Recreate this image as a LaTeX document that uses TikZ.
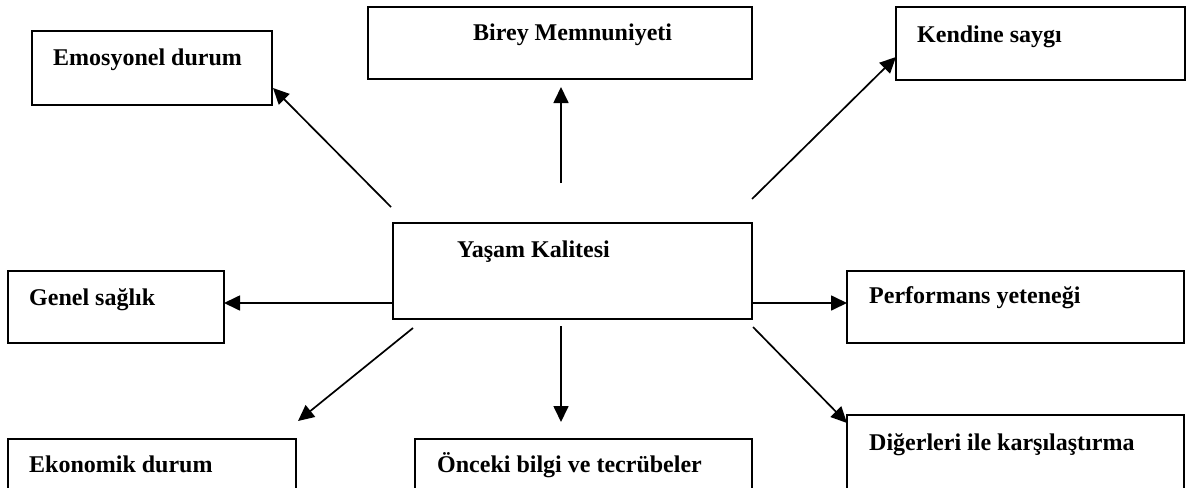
\documentclass[tikz,border=0pt]{standalone}
\usepackage{fontspec}
\setmainfont{Liberation Serif}
\usetikzlibrary{arrows.meta,calc}
\begin{document}
\begin{tikzpicture}[x=1pt,y=-1pt,
  box/.style={draw,line width=2.2pt,rectangle,anchor=north west,inner sep=0pt,outer sep=0pt},
  lbl/.style={anchor=base west,inner sep=0pt,font=\bfseries\fontsize{24}{28}\selectfont},
  arr/.style={line width=1.7pt,-{Triangle[length=16pt,width=15pt]}}]
\useasboundingbox (0,0) rectangle (1190,487);
\clip (0,0) rectangle (1190,487);
% boxes
\node[box,minimum width=240pt,minimum height=74pt] (emo) at (32,31) {};
\node[box,minimum width=384pt,minimum height=72pt] (birey) at (368,7) {};
\node[box,minimum width=289pt,minimum height=73pt] (kendine) at (896,7) {};
\node[box,minimum width=359pt,minimum height=96pt] (yasam) at (393,223) {};
\node[box,minimum width=216pt,minimum height=72pt] (genel) at (8,271) {};
\node[box,minimum width=337pt,minimum height=72pt] (perf) at (847,271) {};
\node[box,minimum width=288pt,minimum height=80pt] (ekon) at (8,439) {};
\node[box,minimum width=337pt,minimum height=80pt] (onceki) at (415,439) {};
\node[box,minimum width=337pt,minimum height=100pt] (diger) at (847,415) {};
% labels
\node[lbl] (emo-t) at ($(emo.north west)+(21,34)$) {Emosyonel durum};
\node[lbl] (birey-t) at ($(birey.north west)+(105,34)$) {Birey Memnuniyeti};
\node[lbl] (kendine-t) at ($(kendine.north west)+(21,35)$) {Kendine saygı};
\node[lbl] (yasam-t) at ($(yasam.north west)+(64,34)$) {Yaşam Kalitesi};
\node[lbl] (genel-t) at ($(genel.north west)+(21,34)$) {Genel sağlık};
\node[lbl] (perf-t) at ($(perf.north west)+(22,32)$) {Performans yeteneği};
\node[lbl] (ekon-t) at ($(ekon.north west)+(21,33)$) {Ekonomik durum};
\node[lbl] (onceki-t) at ($(onceki.north west)+(22,33)$) {Önceki bilgi ve tecrübeler};
\node[lbl] (diger-t) at ($(diger.north west)+(22,35)$) {Diğerleri ile karşılaştırma};
% free ends
\coordinate (t-emo) at ($(yasam.north west)+(-2,-16)$);
\coordinate (h-emo) at ($(emo.south east)+(1,-17)$);
\coordinate (t-birey) at ($(yasam.north west)+(168,-40)$);
\coordinate (h-birey) at ($(birey.south west)+(193,8)$);
\coordinate (t-kend) at ($(yasam.north east)+(0,-24)$);
\coordinate (h-kend) at ($(kendine.north west)+(0,50)$);
\coordinate (t-genel) at ($(yasam.south west)+(0,-16)$);
\coordinate (h-genel) at ($(genel.north east)+(0,32)$);
\coordinate (t-perf) at ($(yasam.south east)+(0,-16)$);
\coordinate (h-perf) at ($(perf.north west)+(0,32)$);
\coordinate (t-ekon) at ($(yasam.south west)+(20,9)$);
\coordinate (h-ekon) at ($(ekon.north east)+(2,-18)$);
\coordinate (t-onc) at ($(yasam.south west)+(168,7)$);
\coordinate (h-onc) at ($(onceki.north west)+(146,-17)$);
\coordinate (t-dig) at ($(yasam.south east)+(1,8)$);
\coordinate (h-dig) at ($(diger.north west)+(0,8)$);
% connectors
\draw[arr] (t-emo) -- (h-emo);
\draw[arr] (t-birey) -- (h-birey);
\draw[arr] (t-kend) -- (h-kend);
\draw[arr] (t-genel) -- (h-genel);
\draw[arr] (t-perf) -- (h-perf);
\draw[arr] (t-ekon) -- (h-ekon);
\draw[arr] (t-onc) -- (h-onc);
\draw[arr] (t-dig) -- (h-dig);
\end{tikzpicture}
\end{document}
